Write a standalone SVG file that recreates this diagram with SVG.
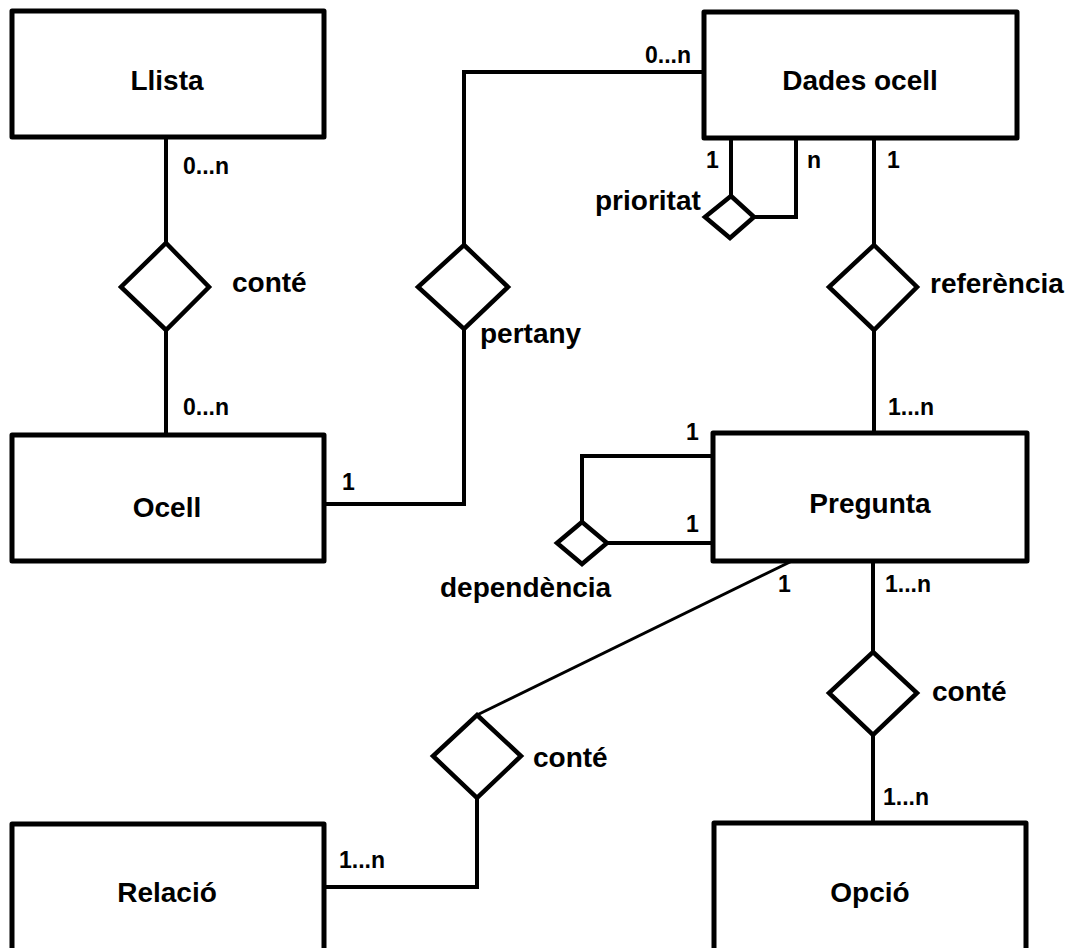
<svg xmlns="http://www.w3.org/2000/svg" width="1076" height="948" viewBox="0 0 1076 948">
  <style>
    .entity { fill: #fff; stroke: #000; stroke-width: 5; stroke-linejoin: round; }
    .rel { fill: #fff; stroke: #000; stroke-width: 4.5; stroke-linejoin: miter; }
    .link { fill: none; stroke: #000; stroke-width: 4; stroke-linejoin: miter; }
    .name { font-family: "Liberation Sans", Arial, sans-serif; font-weight: bold; font-size: 28px; fill: #000; }
    .card { font-family: "Liberation Sans", Arial, sans-serif; font-weight: bold; font-size: 23px; fill: #000; }
    .mid { text-anchor: middle; }
  </style>

  <!-- connectors -->
  <g id="connectors">
    <path class="link" d="M166,137 V243 M166,330 V435"/>
    <path class="link" d="M324,504 H464 V329 M464,245 V72 H704"/>
    <path class="link" d="M731,138 V196 M754,217 H796 V138"/>
    <path class="link" d="M874,138 V245 M874,330 V433"/>
    <path class="link" d="M713,456 H582 V522 M607,543 H713"/>
    <path class="link" d="M792,561 L477,715" style="stroke-width:3"/>
    <path class="link" d="M477,798 V887 H324"/>
    <path class="link" d="M873,561 V652 M873,735 V823"/>
  </g>

  <!-- entities -->
  <g id="llista">
    <rect class="entity" x="12" y="11" width="312" height="126"/>
    <text class="name mid" x="167" y="90">Llista</text>
  </g>
  <g id="ocell">
    <rect class="entity" x="12" y="435" width="312" height="126"/>
    <text class="name mid" x="167" y="517">Ocell</text>
  </g>
  <g id="dades-ocell">
    <rect class="entity" x="704" y="12" width="313" height="126"/>
    <text class="name mid" x="860" y="90">Dades ocell</text>
  </g>
  <g id="pregunta">
    <rect class="entity" x="713" y="433" width="314" height="128"/>
    <text class="name mid" x="870" y="513">Pregunta</text>
  </g>
  <g id="relacio">
    <rect class="entity" x="12" y="824" width="312" height="130"/>
    <text class="name mid" x="167" y="902">Relació</text>
  </g>
  <g id="opcio">
    <rect class="entity" x="714" y="823" width="312" height="130"/>
    <text class="name mid" x="870" y="902">Opció</text>
  </g>

  <!-- relationships -->
  <g id="conte-llista-ocell">
    <polygon class="rel" points="166,243 209,287 166,330 121,287"/>
    <text class="name" x="232" y="292">conté</text>
  </g>
  <g id="pertany">
    <polygon class="rel" points="464,245 508,287 464,329 418,287"/>
    <text class="name" x="480" y="343">pertany</text>
  </g>
  <g id="prioritat">
    <polygon class="rel" points="731,196 754,217 730,238 705,217"/>
    <text class="name" x="595" y="210">prioritat</text>
  </g>
  <g id="referencia">
    <polygon class="rel" points="874,245 917,287 874,330 829,287"/>
    <text class="name" x="930" y="293">referència</text>
  </g>
  <g id="dependencia">
    <polygon class="rel" points="582,522 607,543 582,564 557,543"/>
    <text class="name" x="440" y="597">dependència</text>
  </g>
  <g id="conte-pregunta-relacio">
    <polygon class="rel" points="477,715 521,756 477,798 433,756"/>
    <text class="name" x="533" y="767">conté</text>
  </g>
  <g id="conte-pregunta-opcio">
    <polygon class="rel" points="873,652 917,693 873,735 829,693"/>
    <text class="name" x="932" y="701">conté</text>
  </g>

  <!-- cardinalities -->
  <g id="cardinalities">
    <text class="card" x="183" y="174">0...n</text>
    <text class="card" x="183" y="415">0...n</text>
    <text class="card" x="342" y="490">1</text>
    <text class="card" x="645" y="63">0...n</text>
    <text class="card" x="706" y="168">1</text>
    <text class="card" x="807" y="168">n</text>
    <text class="card" x="887" y="168">1</text>
    <text class="card" x="888" y="415">1...n</text>
    <text class="card" x="686" y="440">1</text>
    <text class="card" x="686" y="532">1</text>
    <text class="card" x="778" y="592">1</text>
    <text class="card" x="885" y="592">1...n</text>
    <text class="card" x="883" y="805">1...n</text>
    <text class="card" x="339" y="868">1...n</text>
  </g>
</svg>
